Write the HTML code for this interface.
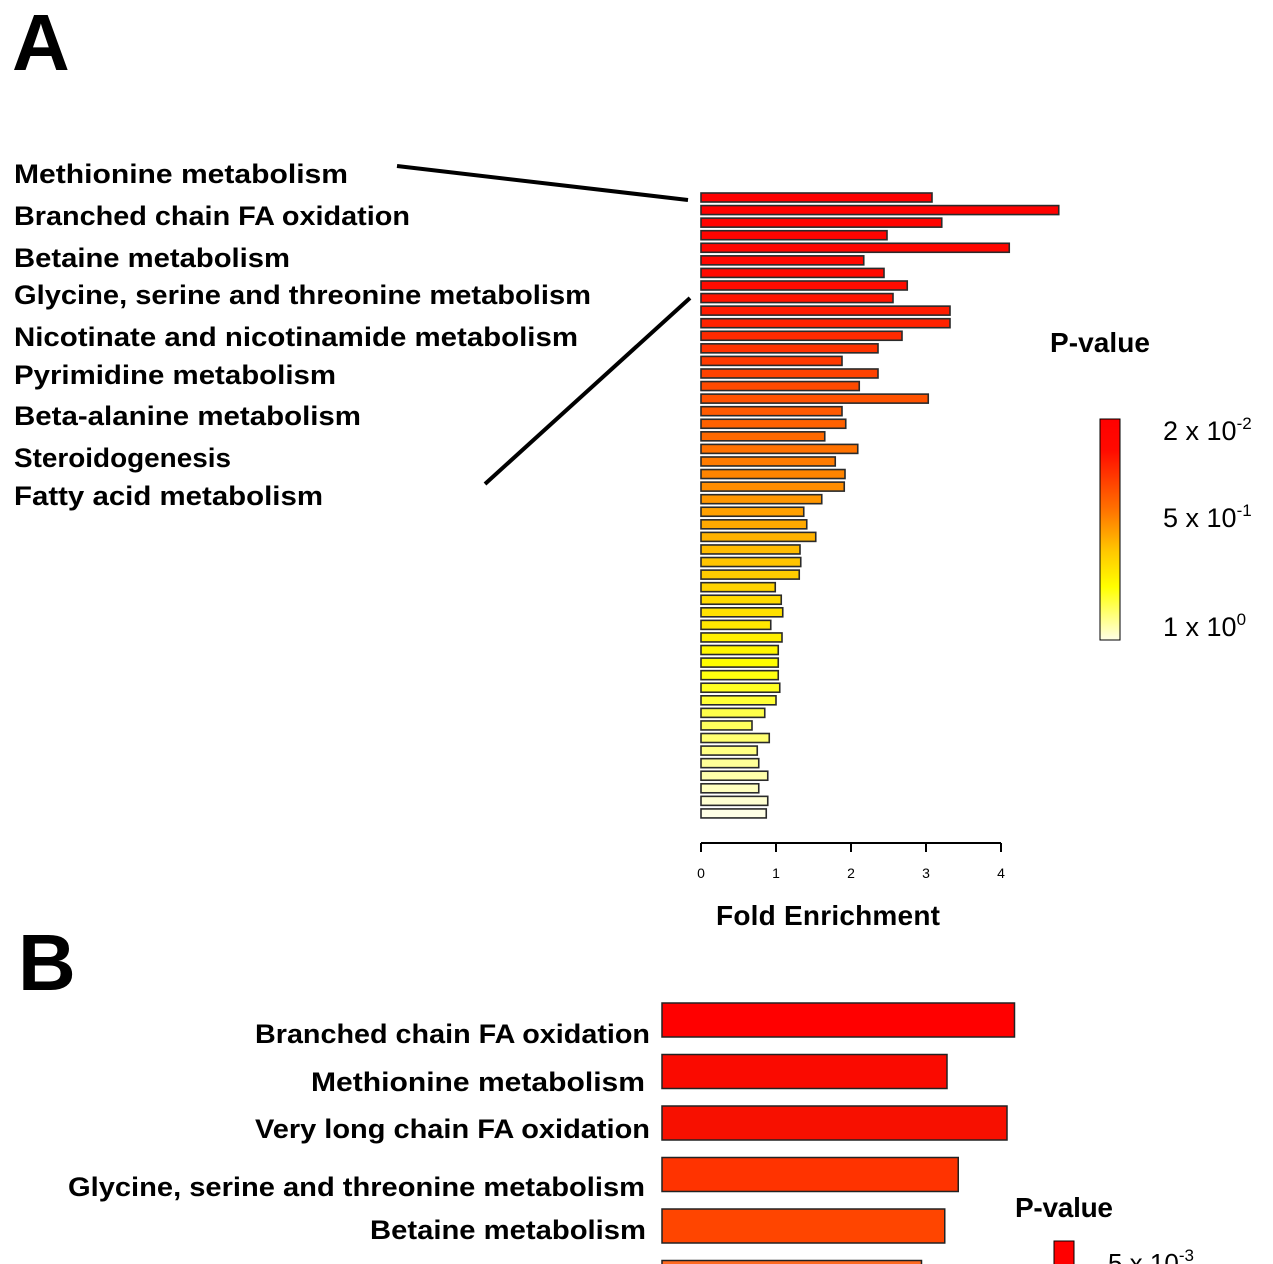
<!DOCTYPE html>
<html><head><meta charset="utf-8"><style>
html,body{margin:0;padding:0;background:#fff}
svg{display:block}
text{font-family:"Liberation Sans",sans-serif;font-weight:bold;fill:#000}
</style></head><body>
<svg id="chart" width="1273" height="1264" viewBox="0 0 1273 1264" xmlns="http://www.w3.org/2000/svg">
<defs>
<linearGradient id="cbar" x1="0" y1="0" x2="0" y2="1">
<stop offset="0" stop-color="#ff0000"/><stop offset="0.14" stop-color="#ff0a00"/><stop offset="0.4" stop-color="#ff6e00"/><stop offset="0.6" stop-color="#ffc800"/><stop offset="0.76" stop-color="#ffff00"/><stop offset="1" stop-color="#ffffe6"/>
</linearGradient>
</defs>
<text x="12" y="70" font-size="80">A</text>
<text x="18" y="990" font-size="80">B</text>
<g id="labelsA"></g>
<line x1="397" y1="166" x2="688" y2="200" stroke="#000" stroke-width="4"/>
<line x1="690" y1="298" x2="485" y2="484" stroke="#000" stroke-width="4"/>
<g id="barsA"></g>
<g id="axisA"></g>
<text x="828" y="925" font-size="28" text-anchor="middle" textLength="224">Fold Enrichment</text>
<text x="1050" y="352" font-size="28" textLength="100">P-value</text>
<rect x="1100" y="419" width="20" height="221" fill="url(#cbar)" stroke="#000" stroke-width="1"/>
<text x="1163" y="440" font-size="27" style="font-weight:normal">2 x 10<tspan dy="-11" font-size="17">-2</tspan></text>
<text x="1163" y="527" font-size="27" style="font-weight:normal">5 x 10<tspan dy="-11" font-size="17">-1</tspan></text>
<text x="1163" y="636" font-size="27" style="font-weight:normal">1 x 10<tspan dy="-11" font-size="17">0</tspan></text>
<g id="barsB"></g>
<text x="1015" y="1217" font-size="28" textLength="98">P-value</text>
<rect x="1054" y="1241" width="20" height="30" fill="#ff0000" stroke="#000"/>
<text x="1108" y="1272" font-size="26" style="font-weight:normal">5 x 10<tspan dy="-11" font-size="17">-3</tspan></text>
</svg>
<script>
const labelsA=["Methionine metabolism","Branched chain FA oxidation","Betaine metabolism","Glycine, serine and threonine metabolism","Nicotinate and nicotinamide metabolism","Pyrimidine metabolism","Beta-alanine metabolism","Steroidogenesis","Fatty acid metabolism"];
const foldA=[3.08,4.77,3.21,2.48,4.11,2.17,2.44,2.75,2.56,3.32,3.32,2.68,2.36,1.88,2.36,2.11,3.03,1.88,1.93,1.65,2.09,1.79,1.92,1.91,1.61,1.37,1.41,1.53,1.32,1.33,1.31,0.99,1.07,1.09,0.93,1.08,1.03,1.03,1.03,1.05,1.00,0.85,0.68,0.91,0.75,0.77,0.89,0.77,0.89,0.87];
const ticksA=[0,1,2,3,4];
const labelsB=["Branched chain FA oxidation","Methionine metabolism","Very long chain FA oxidation","Glycine, serine and threonine metabolism","Betaine metabolism","Other"];
const foldB=[4.7,3.8,4.6,3.95,3.77,3.46];
const colorsB=["#ff0000","#fa0a00","#f71000","#ff3300","#ff4500","#ff6a20"];

const NS="http://www.w3.org/2000/svg";
function mk(tag,attrs,parent){const e=document.createElementNS(NS,tag);for(const k in attrs)e.setAttribute(k,attrs[k]);parent.appendChild(e);return e;}
const xA=v=>701+v*75;
const yA=i=>193+i*12.57;
function colorAt(t){
  const stops=[[0,[255,0,0]],[0.14,[255,10,0]],[0.4,[255,110,0]],[0.6,[255,200,0]],[0.76,[255,255,0]],[1,[255,255,230]]];
  for(let i=1;i<stops.length;i++){if(t<=stops[i][0]){const a=stops[i-1],b=stops[i];const f=(t-a[0])/(b[0]-a[0]);return "rgb("+a[1].map((c,j)=>Math.round(c+(b[1][j]-c)*f)).join(",")+")";}}
  return "rgb(255,255,230)";
}
const gA=document.getElementById("barsA");
foldA.forEach((v,i)=>{
  const r=mk("rect",{x:xA(0),y:yA(i),width:xA(v)-xA(0),height:9,fill:colorAt(i/(foldA.length-1)),stroke:"#2a2a2a","stroke-width":1.6},gA);
  
  
});
const ax=document.getElementById("axisA");
const axl=mk("line",{x1:xA(0),y1:843,x2:xA(4),y2:843,stroke:"#000","stroke-width":2},ax);


ticksA.forEach(t=>{
  mk("line",{x1:xA(t),y1:843,x2:xA(t),y2:852,stroke:"#000","stroke-width":2},ax);
  const tx=mk("text",{x:xA(t),y:878,"font-size":14,"text-anchor":"middle",style:"font-weight:normal"},ax);
  tx.textContent=t;
  
  
});
const lg=document.getElementById("labelsA");
const baseA=[183,225,267,304,346,384,425,467,505];
const widA=[334,396,276,577,564,322,347,217,309];
labelsA.forEach((s,i)=>{
  const t=mk("text",{x:14,y:baseA[i],"font-size":27,textLength:widA[i],lengthAdjust:"spacingAndGlyphs"},lg);
  t.textContent=s;
  
  
});
const gB=document.getElementById("barsB");
const xB=v=>662+v*75;
const baseB=[1043,1091,1138,1196,1239];
const startB=[255,311,255,68,370];
const endB=[650,645,650,645,646];
foldB.forEach((v,i)=>{
  const r=mk("rect",{x:xB(0),y:1003+i*51.5,width:xB(v)-xB(0),height:34,fill:colorsB[i],stroke:"#222","stroke-width":1.5},gB);
  
  
  if(i<5){
    const t=mk("text",{x:startB[i],y:baseB[i],"font-size":27,textLength:endB[i]-startB[i],lengthAdjust:"spacingAndGlyphs"},gB);
    t.textContent=labelsB[i];
    
    
  }
});
</script>
</body></html>
